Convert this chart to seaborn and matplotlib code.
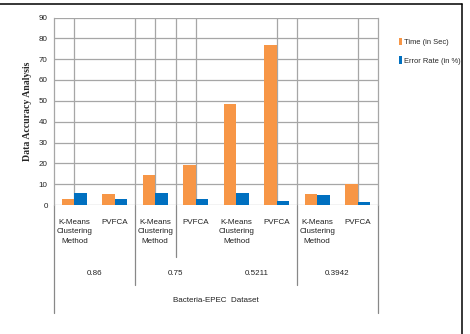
#!/usr/bin/env python3
import matplotlib
matplotlib.use("Agg")
import matplotlib.pyplot as plt
import pandas as pd
import seaborn as sns
from matplotlib.lines import Line2D

# values
methods = ["K-Means\nClustering\nMethod", "PVFCA"] * 4
thresholds = ["0.86", "0.75", "0.5211", "0.3942"]
dataset = "Bacteria-EPEC  Dataset"
series = ["Time (in Sec)", "Error Rate (in %)"]
time_sec = [2.8, 5.2, 14.5, 19.2, 48.6, 76.7, 5.3, 10.1]
error_rate = [5.7, 2.8, 5.7, 2.8, 5.7, 1.8, 4.7, 1.3]
y_ticks = list(range(0, 91, 10))

colors = ["#F79646", "#0070C0"]
grid_color = "#a6a6a6"
fs = 5.8

sns.set_style("white")
plt.rcParams["font.family"] = ["Liberation Sans", "DejaVu Sans"]

slots = list(range(len(methods)))
df = pd.DataFrame({
    "slot": slots * 2,
    "series": [series[0]] * len(slots) + [series[1]] * len(slots),
    "value": time_sec + error_rate,
})

fig = plt.figure(figsize=(4.7, 3.34), dpi=100)
ax = fig.add_axes([54 / 470, 1 - 205 / 334, 324 / 470, 187.5 / 334])

sns.barplot(data=df, x="slot", y="value", hue="series", hue_order=series,
            palette=colors, saturation=1, width=0.62, linewidth=0,
            ax=ax, legend=True)

ax.set_xlim(-0.5, len(slots) - 0.5)
ax.set_ylim(0, 90)
ax.set_yticks(y_ticks)
ax.set_yticklabels([str(v) for v in y_ticks], fontsize=fs, color="#222222")
ax.tick_params(axis="y", length=0, pad=4.5)
ax.set_xticks([])
ax.set_xlabel("")

# gridlines, as in the original Excel-style frame
ax.set_axisbelow(True)
ax.yaxis.grid(True, color=grid_color, lw=0.9)
for xv in [0, 1.5, 2, 2.5, 3, 5, 5.5, 7]:
    ax.axvline(xv, color=grid_color, lw=0.9, zorder=0)
for side in ["left", "right"]:
    ax.spines[side].set_color(grid_color)
    ax.spines[side].set_linewidth(0.9)
ax.spines["top"].set_visible(False)
ax.spines["bottom"].set_visible(False)

ax.set_ylabel("Data Accuracy Analysis", fontsize=7, fontweight="bold",
              family=["Liberation Serif", "DejaVu Serif"])
ax.yaxis.set_label_coords(-0.068, 0.5)

# multi-level category axis
tr = ax.get_xaxis_transform()
for i, m in enumerate(methods):
    ax.text(i, -0.075, m, transform=tr, ha="center", va="top",
            fontsize=fs, linespacing=1.45, color="#222222")
for j, t in enumerate(thresholds):
    ax.text(2 * j + 0.5, -0.365, t, transform=tr, ha="center", va="center",
            fontsize=fs, color="#222222")
ax.text(3.5, -0.51, dataset, transform=tr, ha="center", va="center",
        fontsize=fs, color="#222222")

sep_kw = dict(transform=tr, color="#888888", lw=0.9, clip_on=False)
ax.plot([2.5, 2.5], [0, -0.277], **sep_kw)
for xv in [1.5, 5.5]:
    ax.plot([xv, xv], [0, -0.427], **sep_kw)
for xv in [-0.5, 7.5]:
    ax.plot([xv, xv], [0, -0.576], **sep_kw)

ax.legend(loc="upper left", bbox_to_anchor=(395 / 470, 1 - 34 / 334),
          bbox_transform=fig.transFigure, frameon=False, fontsize=5.4,
          handlelength=0.4, handleheight=1.1, handletextpad=0.35,
          labelspacing=1.4, borderpad=0)

# black frame edges visible in the screenshot
fig.add_artist(Line2D([0, 461.5 / 470], [1 - 3.5 / 334] * 2, color="black", lw=1.1))
fig.add_artist(Line2D([461.5 / 470] * 2, [0, 1 - 3.5 / 334], color="black", lw=1.1))

fig.savefig("out.png", dpi=100)
